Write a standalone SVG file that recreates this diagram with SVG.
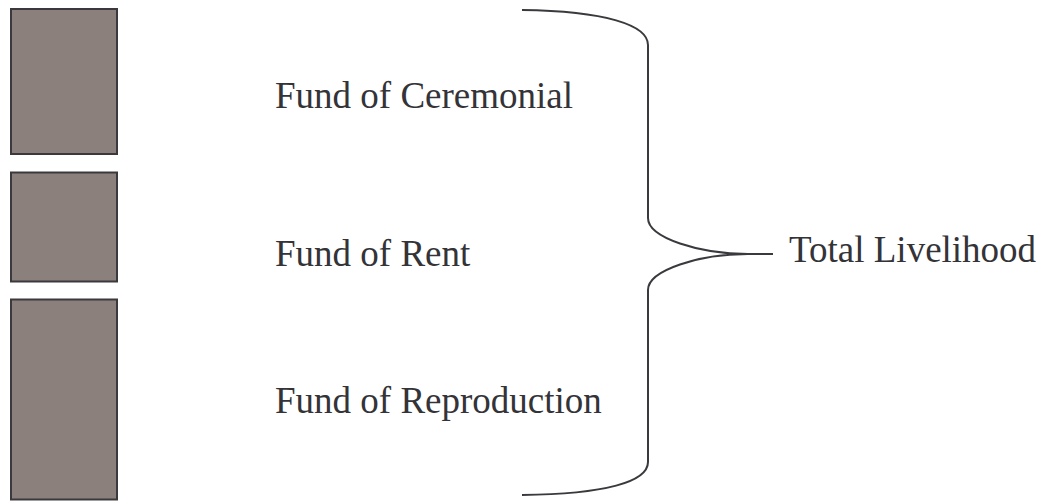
<svg xmlns="http://www.w3.org/2000/svg" width="1043" height="502" viewBox="0 0 1043 502">
  <style>
    .bar { fill: #8c807c; stroke: #3a393d; stroke-width: 2; }
    .label { font-family: "Liberation Serif", "Times New Roman", serif; font-size: 37px; fill: #333338; }
    .brace { fill: none; stroke: #3a393d; stroke-width: 2; }
  </style>
  <rect width="1043" height="502" fill="#ffffff"/>
  <g id="bar-ceremonial"><rect class="bar" x="11" y="9" width="106" height="145"/></g>
  <g id="bar-rent"><rect class="bar" x="11" y="172.5" width="106" height="109"/></g>
  <g id="bar-reproduction"><rect class="bar" x="11" y="299.5" width="106" height="200"/></g>
  <g id="label-ceremonial"><text class="label" x="275" y="108">Fund of Ceremonial</text></g>
  <g id="label-rent"><text class="label" x="275" y="266">Fund of Rent</text></g>
  <g id="label-reproduction"><text class="label" x="275" y="413">Fund of Reproduction</text></g>
  <g id="label-total"><text class="label" x="789" y="262">Total Livelihood</text></g>
  <g id="connectors">
    <path class="brace" d="M522,10 C605,11 648,25 648,45 L648,218 C648,238 700,254 748,254 L773,254 M748,254 C700,254 648,270 648,290 L648,462 C648,482 605,494 522,495"/>
  </g>
</svg>
